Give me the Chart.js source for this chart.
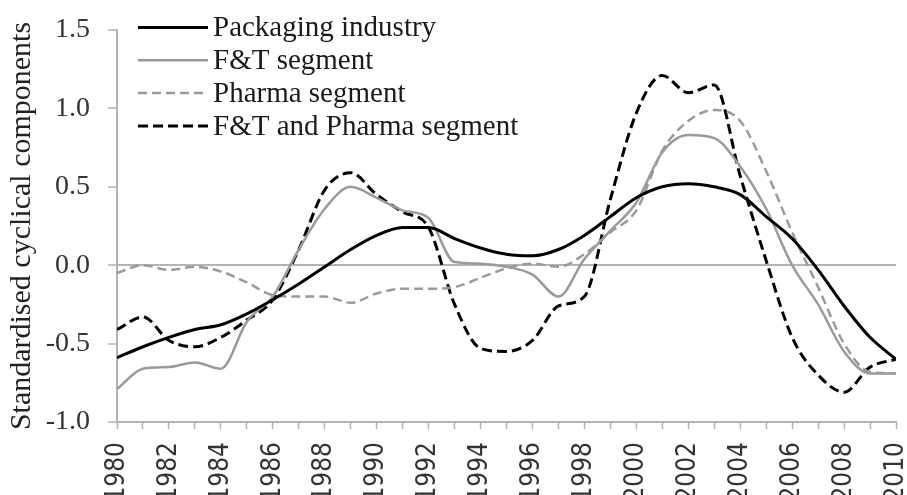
<!DOCTYPE html>
<html>
<head>
<meta charset="utf-8">
<script src="https://cdn.jsdelivr.net/npm/chart.js@4.4.1/dist/chart.umd.min.js"></script>
<style>
  body { margin: 0; background: #fff; }
  #chart { display: block; }
</style>
</head>
<body>
<canvas id="chart" width="907" height="495"></canvas>
<script>
// annual values
const years = [1980, 1981, 1982, 1983, 1984, 1985, 1986, 1987, 1988, 1989,
               1990, 1991, 1992, 1993, 1994, 1995, 1996, 1997, 1998, 1999,
               2000, 2001, 2002, 2003, 2004, 2005, 2006, 2007, 2008, 2009, 2010];

const packaging = [-0.59, -0.52, -0.46, -0.41, -0.38, -0.31, -0.22, -0.12, -0.01, 0.10,
                   0.19, 0.24, 0.24, 0.17, 0.11, 0.07, 0.06, 0.10, 0.19, 0.31,
                   0.43, 0.50, 0.52, 0.50, 0.45, 0.31, 0.17, -0.03, -0.26, -0.46, -0.60];

const ftSegment = [-0.79, -0.66, -0.65, -0.62, -0.66, -0.36, -0.20, 0.10, 0.36, 0.50,
                   0.43, 0.35, 0.30, 0.02, 0.01, -0.01, -0.06, -0.20, 0.04, 0.22,
                   0.40, 0.72, 0.83, 0.81, 0.63, 0.36, 0.00, -0.25, -0.55, -0.69, -0.69];

const pharmaSegment = [-0.05, 0.00, -0.03, -0.01, -0.04, -0.11, -0.19, -0.20, -0.20, -0.24,
                       -0.18, -0.15, -0.15, -0.14, -0.08, -0.02, 0.01, -0.01, 0.07, 0.21,
                       0.35, 0.73, 0.92, 0.99, 0.92, 0.60, 0.21, -0.14, -0.50, -0.68, -0.69];

const ftPharma = [-0.41, -0.33, -0.48, -0.52, -0.46, -0.35, -0.22, 0.10, 0.48, 0.59,
                  0.45, 0.34, 0.24, -0.25, -0.53, -0.55, -0.48, -0.26, -0.20, 0.42,
                  0.97, 1.21, 1.10, 1.15, 0.57, 0.03, -0.46, -0.70, -0.81, -0.65, -0.60];

const seriesNames = ["Packaging industry", "F&T segment", "Pharma segment", "F&T and Pharma segment"];

const yTitle = "Standardised cyclical components";

const axisGray = "#b3b3b3";
const serif = '"Liberation Serif", "Times New Roman", serif';

function toPoints(values) {
    return years.map((yr, i) => ({ x: yr, y: values[i] }));
}

// legend drawn inside the plot, top left, like the original
const insideLegend = {
    id: "insideLegend",
    afterDraw(chart) {
        const ctx = chart.ctx;
        ctx.save();
        ctx.font = "29px " + serif;
        ctx.textBaseline = "middle";
        ctx.fillStyle = "#1a1a1a";
        chart.data.datasets.forEach((ds, i) => {
            const y = 27.5 + i * 32.8;
            ctx.beginPath();
            ctx.strokeStyle = ds.borderColor;
            ctx.lineWidth = ds.borderWidth;
            ctx.setLineDash(ds.borderDash || []);
            ctx.moveTo(138, y);
            ctx.lineTo(208, y);
            ctx.stroke();
            ctx.setLineDash([]);
            ctx.fillText(ds.label, 213, y + 1);
        });
        ctx.restore();
    }
};

new Chart(document.getElementById("chart"), {
    type: "line",
    data: {
        datasets: [
            {
                label: seriesNames[0],
                data: toPoints(packaging),
                borderColor: "#000000",
                borderWidth: 3,
            },
            {
                label: seriesNames[1],
                data: toPoints(ftSegment),
                borderColor: "#9a9a9a",
                borderWidth: 2.5,
            },
            {
                label: seriesNames[2],
                data: toPoints(pharmaSegment),
                borderColor: "#9a9a9a",
                borderWidth: 2.5,
                borderDash: [9, 5],
            },
            {
                label: seriesNames[3],
                data: toPoints(ftPharma),
                borderColor: "#000000",
                borderWidth: 3,
                borderDash: [10, 5],
            },
        ],
    },
    options: {
        responsive: false,
        animation: false,
        devicePixelRatio: 1,
        layout: { padding: { top: 30, right: 11, bottom: 0, left: 0 } },
        elements: {
            point: { radius: 0 },
            line: { cubicInterpolationMode: "monotone", fill: false },
        },
        plugins: {
            legend: { display: false },
            tooltip: { enabled: false },
        },
        scales: {
            x: {
                type: "linear",
                min: 1980,
                max: 2010,
                border: { color: axisGray, width: 2 },
                grid: {
                    drawOnChartArea: false,
                    tickLength: 7,
                    tickColor: axisGray,
                    tickWidth: 1.5,
                },
                ticks: {
                    stepSize: 1,
                    autoSkip: false,
                    minRotation: 90,
                    maxRotation: 90,
                    padding: 13,
                    color: "#333",
                    font: { family: '"Liberation Sans Narrow", "DejaVu Sans Condensed", sans-serif', size: 26 },
                    callback: (v) => (v % 2 === 0 ? String(v) : ""),
                },
                afterFit: (scale) => {
                    scale.height = 73;
                    scale.paddingLeft = 0;
                    scale.paddingRight = 0;
                },
            },
            y: {
                min: -1,
                max: 1.5,
                border: { color: axisGray, width: 2 },
                grid: {
                    lineWidth: 2,
                    color: (c) => (c.tick && c.tick.value === 0 ? axisGray : "rgba(0,0,0,0)"),
                    tickLength: 9,
                    tickColor: axisGray,
                    tickWidth: 1.5,
                },
                ticks: {
                    stepSize: 0.5,
                    padding: 18,
                    color: "#333",
                    font: { family: serif, size: 28 },
                    callback: (v) => v.toFixed(1),
                },
                title: {
                    display: true,
                    text: yTitle,
                    color: "#222",
                    font: { family: serif, size: 30 },
                    padding: { top: 4, bottom: 0 },
                },
                afterFit: (scale) => {
                    scale.width = 117;
                    scale.paddingTop = 0;
                    scale.paddingBottom = 0;
                },
            },
        },
    },
    plugins: [insideLegend],
});
</script>
</body>
</html>
